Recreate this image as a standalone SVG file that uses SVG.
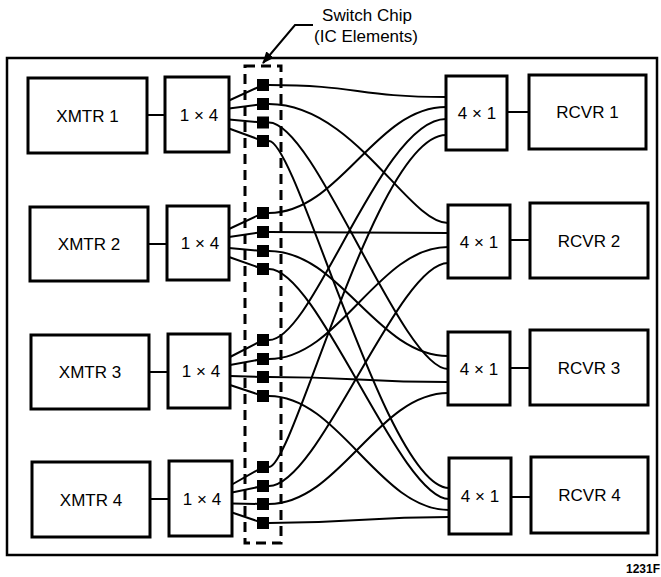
<svg xmlns="http://www.w3.org/2000/svg" width="661" height="577" viewBox="0 0 661 577">
<style>
.box{fill:#fff;stroke:#000;stroke-width:3}
.frame{fill:none;stroke:#000;stroke-width:2.5}
.dash{fill:none;stroke:#000;stroke-width:3;stroke-dasharray:10 6}
.w{fill:none;stroke:#000;stroke-width:2}
.t{font-family:"Liberation Sans",Arial,sans-serif;font-size:17px;fill:#000;text-anchor:middle}
.sq{fill:#000}
</style>
<defs>
<marker id="ah" viewBox="0 0 12 10" refX="11" refY="5" markerWidth="12" markerHeight="10" markerUnits="userSpaceOnUse" orient="auto">
<path d="M0,0 L12,5 L0,10 z" fill="#000"/>
</marker>
</defs>
<rect x="0" y="0" width="661" height="577" fill="#fff"/>
<rect class="frame" x="7" y="58" width="650" height="497"/>

<g id="label">
<text class="t" x="367" y="21">Switch Chip</text>
<text class="t" x="366" y="42">(IC Elements)</text>
<polyline class="w" points="313,25 295,25 263,63" marker-end="url(#ah)"/>
</g>
<text x="660" y="573" style="font-family:'Liberation Sans',Arial,sans-serif;font-size:12px;font-weight:bold;text-anchor:end">1231F</text>

<g id="connectors">
<line class="w" x1="147" y1="115" x2="165" y2="115"/>
<line class="w" x1="148" y1="244" x2="167" y2="244"/>
<line class="w" x1="149" y1="372" x2="168" y2="372"/>
<line class="w" x1="150" y1="499" x2="169" y2="499"/>
<line class="w" x1="507" y1="112" x2="529" y2="112"/>
<line class="w" x1="510" y1="240" x2="530" y2="240"/>
<line class="w" x1="510" y1="368" x2="530" y2="368"/>
<line class="w" x1="511" y1="497" x2="531" y2="497"/>
<!-- fan-out -->
<path class="w" d="M229,100.5L263,85M229,108.5L263,104M229,119.5L263,122.5M229,128.5L263,141"/>
<path class="w" d="M229,229L263,213M229,237L263,232M229,248L263,251M229,257L263,269"/>
<path class="w" d="M230,357L263,340M230,365L263,359M230,376L263,377M230,385L263,396"/>
<path class="w" d="M232,484.5L263,467M232,492.5L263,486M232,503.5L263,504M232,512.5L263,523"/>
<!-- crossbar -->
<path class="w" d="M263,85H269C357,85 358,97 446,97"/>
<path class="w" d="M263,104H269C354,104 408,223 448,223"/>
<path class="w" d="M263,122.5H269C315,122.5 402,369 448,369"/>
<path class="w" d="M263,141H269C297,141 387,488 449,488"/>
<path class="w" d="M263,213H269C340,213 375,107 446,107"/>
<path class="w" d="M263,232H269C359,232 358,233 448,233"/>
<path class="w" d="M263,251H269C340,251 377,356 448,356"/>
<path class="w" d="M263,269H269C318,269 400,499 449,499"/>
<path class="w" d="M263,340H269C314,340 381,119 446,119"/>
<path class="w" d="M263,359H269C339,359 378,247 448,247"/>
<path class="w" d="M263,377H269C358,377 359,382 448,382"/>
<path class="w" d="M263,396H269C339,396 379,510 449,510"/>
<path class="w" d="M263,467H269C294,467 376,135 446,135"/>
<path class="w" d="M263,486H269C319,486 398,263 448,263"/>
<path class="w" d="M263,504H269C339,504 378,393 448,393"/>
<path class="w" d="M263,523H269C358,523 360,517 449,517"/>
</g>

<g id="switch-chip">
<rect class="dash" x="245" y="66" width="36" height="477"/>
<rect class="sq" x="257" y="79" width="12" height="12"/>
<rect class="sq" x="257" y="98" width="12" height="12"/>
<rect class="sq" x="257" y="116.5" width="12" height="12"/>
<rect class="sq" x="257" y="135" width="12" height="12"/>
<rect class="sq" x="257" y="207" width="12" height="12"/>
<rect class="sq" x="257" y="226" width="12" height="12"/>
<rect class="sq" x="257" y="245" width="12" height="12"/>
<rect class="sq" x="257" y="263" width="12" height="12"/>
<rect class="sq" x="257" y="334" width="12" height="12"/>
<rect class="sq" x="257" y="353" width="12" height="12"/>
<rect class="sq" x="257" y="371" width="12" height="12"/>
<rect class="sq" x="257" y="390" width="12" height="12"/>
<rect class="sq" x="257" y="461" width="12" height="12"/>
<rect class="sq" x="257" y="480" width="12" height="12"/>
<rect class="sq" x="257" y="498" width="12" height="12"/>
<rect class="sq" x="257" y="517" width="12" height="12"/>
</g>

<g id="xmtr1"><rect class="box" x="28" y="78" width="119" height="75"/><text class="t" x="87.5" y="121.5">XMTR 1</text></g>
<g id="xmtr2"><rect class="box" x="30" y="207" width="118" height="74"/><text class="t" x="89" y="250">XMTR 2</text></g>
<g id="xmtr3"><rect class="box" x="31" y="335" width="118" height="74"/><text class="t" x="90" y="378">XMTR 3</text></g>
<g id="xmtr4"><rect class="box" x="32" y="462" width="118" height="75"/><text class="t" x="91" y="505.5">XMTR 4</text></g>

<g id="split1"><rect class="box" x="165" y="77" width="64" height="75"/><text class="t" x="199" y="120.5">1 × 4</text></g>
<g id="split2"><rect class="box" x="167" y="206" width="62" height="74"/><text class="t" x="200" y="249">1 × 4</text></g>
<g id="split3"><rect class="box" x="168" y="334" width="62" height="74"/><text class="t" x="201" y="377">1 × 4</text></g>
<g id="split4"><rect class="box" x="169" y="461" width="63" height="75"/><text class="t" x="202" y="504.5">1 × 4</text></g>

<g id="comb1"><rect class="box" x="446" y="76" width="61" height="74"/><text class="t" x="477" y="119">4 × 1</text></g>
<g id="comb2"><rect class="box" x="448" y="205" width="62" height="73"/><text class="t" x="479" y="247.5">4 × 1</text></g>
<g id="comb3"><rect class="box" x="448" y="332" width="62" height="73"/><text class="t" x="479" y="374.5">4 × 1</text></g>
<g id="comb4"><rect class="box" x="449" y="458" width="62" height="76"/><text class="t" x="480" y="502">4 × 1</text></g>

<g id="rcvr1"><rect class="box" x="529" y="75" width="117" height="74"/><text class="t" x="587.5" y="118">RCVR 1</text></g>
<g id="rcvr2"><rect class="box" x="530" y="203" width="118" height="75"/><text class="t" x="589" y="246.5">RCVR 2</text></g>
<g id="rcvr3"><rect class="box" x="530" y="330" width="118" height="75"/><text class="t" x="589" y="373.5">RCVR 3</text></g>
<g id="rcvr4"><rect class="box" x="531" y="457" width="117" height="76"/><text class="t" x="589.5" y="501">RCVR 4</text></g>
</svg>
